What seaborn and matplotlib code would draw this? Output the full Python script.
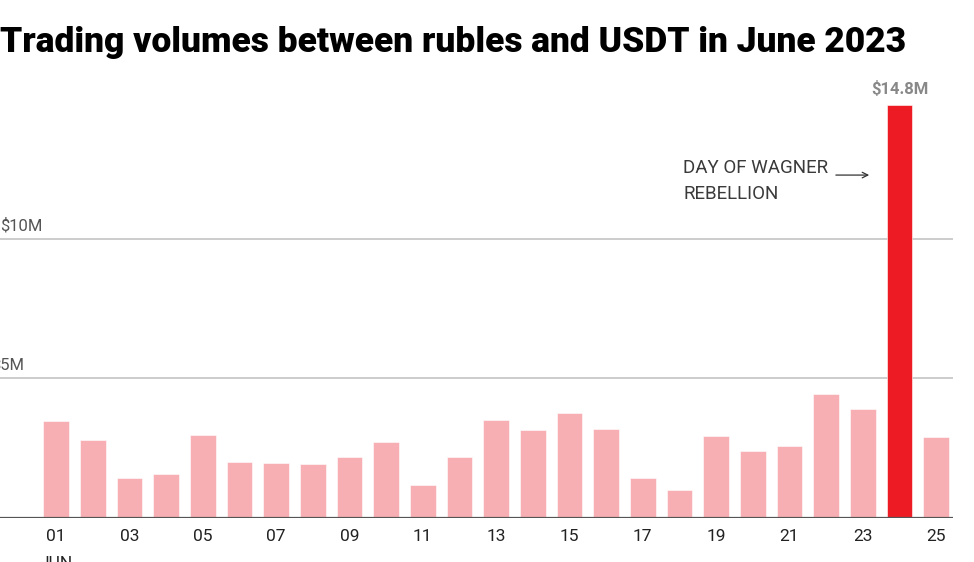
import pandas as pd
import matplotlib.pyplot as plt
import seaborn as sns

# Daily ruble/USDT volumes, June 2023 ($M)
days = [f'{d:02d}' for d in range(1, 26)]
volume = [3.46, 2.80, 1.43, 1.56, 2.97, 2.01, 1.97, 1.92, 2.19, 2.71,
          1.17, 2.19, 3.51, 3.15, 3.77, 3.20, 1.43, 1.00, 2.94, 2.40,
          2.58, 4.43, 3.91, 14.8, 2.89]
highlight_day = '24'
tick_days = days[::2]
y_grid = [5, 10]
y_labels = ['$5M', '$10M']

df = pd.DataFrame({'day': days, 'volume': volume})
colors = ['#ED1C24' if d == highlight_day else '#F8AFB3' for d in days]

sns.set_style('white')
plt.rcParams['font.family'] = ['Roboto', 'DejaVu Sans']

fig = plt.figure(figsize=(9.74, 5.62), dpi=100)
ax = fig.add_axes([0, 44 / 562, 953 / 974, (518 - 85.5) / 562])

sns.barplot(data=df, x='day', y='volume', hue='day', palette=colors,
            legend=False, width=0.7, saturation=1, ax=ax,
            edgecolor='white', linewidth=0.4)

ax.set_xlim(-1.53, 24.46)
ax.set_ylim(0, 15.5)

for v in y_grid:
    ax.axhline(v, color='#cccccc', lw=1.4, zorder=0)
ax.axhline(0, color='#555555', lw=1.6, zorder=3)

# y labels sit above the gridlines, left side partly cropped
ax.text(-9 / 953, 5 + 0.2, y_labels[0], transform=ax.get_yaxis_transform(),
        ha='left', va='bottom', fontsize=12, color='#555555')
ax.text(0, 10 + 0.2, y_labels[1], transform=ax.get_yaxis_transform(),
        ha='left', va='bottom', fontsize=12, color='#555555')

ax.set_yticks([])
ax.set_xticks(range(0, 25, 2))
ax.set_xticklabels([('01\nJUN' if d == '01' else d) for d in tick_days],
                   fontsize=12.5, color='#222222', linespacing=2.0)
ax.tick_params(axis='x', length=0, pad=8)
ax.set_xlabel('')
ax.set_ylabel('')
sns.despine(ax=ax, left=True, bottom=True)

# peak label and annotation
peak_i = days.index(highlight_day)
ax.text(peak_i, volume[peak_i] + 0.3, '$14.8M', ha='center', va='bottom',
        fontsize=12, fontweight='bold', color='#888888')
ax.annotate('', xy=(peak_i - 0.75, 12.29), xytext=(peak_i - 1.81, 12.29),
            arrowprops=dict(arrowstyle='->', color='#333333', lw=0.9))
ax.text(peak_i - 5.9, 12.85, 'DAY OF WAGNER\nREBELLION', ha='left', va='top',
        fontsize=13.5, color='#3a3a3a', linespacing=1.55)

fig.text(0, 1 - 52 / 562, 'Trading volumes between rubles and USDT in June 2023',
         ha='left', va='baseline', fontsize=25.5, fontweight='black', color='#000000')

fig.savefig('out.png', dpi=100)
